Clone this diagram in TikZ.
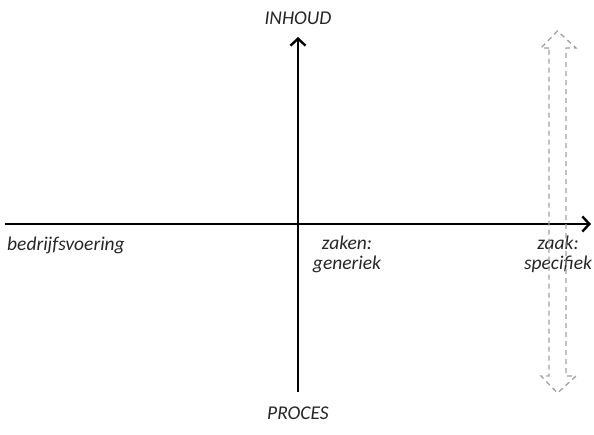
\documentclass[tikz,border=0pt]{standalone}
\usepackage{fontspec}
\setmainfont{Carlito}
\usetikzlibrary{arrows.meta, positioning}

\tikzset{
    axis/.style = {line width = 2.4pt, -{Straight Barb[length = 7pt, width = 15pt, line width = 2.4pt]}},
    label/.style = {font = \fontsize{19.5}{21}\selectfont\itshape, text = black!85, inner sep = 0pt},
    band/.style = {dashed, dash pattern = on 5pt off 4pt, draw = gray!75, line width = 1.3pt}
}

\begin{document}
\begin{tikzpicture}[x = 1pt, y = -1pt]
                \useasboundingbox (0,0) rectangle (594,434);
                \coordinate (west) at (5,224);
                \coordinate (east) at (591,224);
                \coordinate (south) at (298,392);
                \coordinate (north) at (298,37);
                \draw[axis] (west) -- (east);
                \draw[axis] (south) -- (north);
                \node[label] (inhoud) at (298,18) {INHOUD};
                \node[label] (proces) at (298,413) {PROCES};
                \node[label, anchor = west] (bedrijf) at (7,245) {bedrijfsvoering};
                \node[label, align = center] (generiek) at (347,254) {zaken:\\[-1pt]generiek};
                \node[label, align = center] (specifiek) at (558,254) {zaak:\\[-1pt]specifiek};
                \draw[band] (549,48) -- (541,48) -- (557.5,31) -- (576,48) -- (566,48)
                    -- (566,376) -- (576,376) -- (557.5,393) -- (541,376) -- (549,376) -- cycle;

            \end{tikzpicture}
\end{document}
